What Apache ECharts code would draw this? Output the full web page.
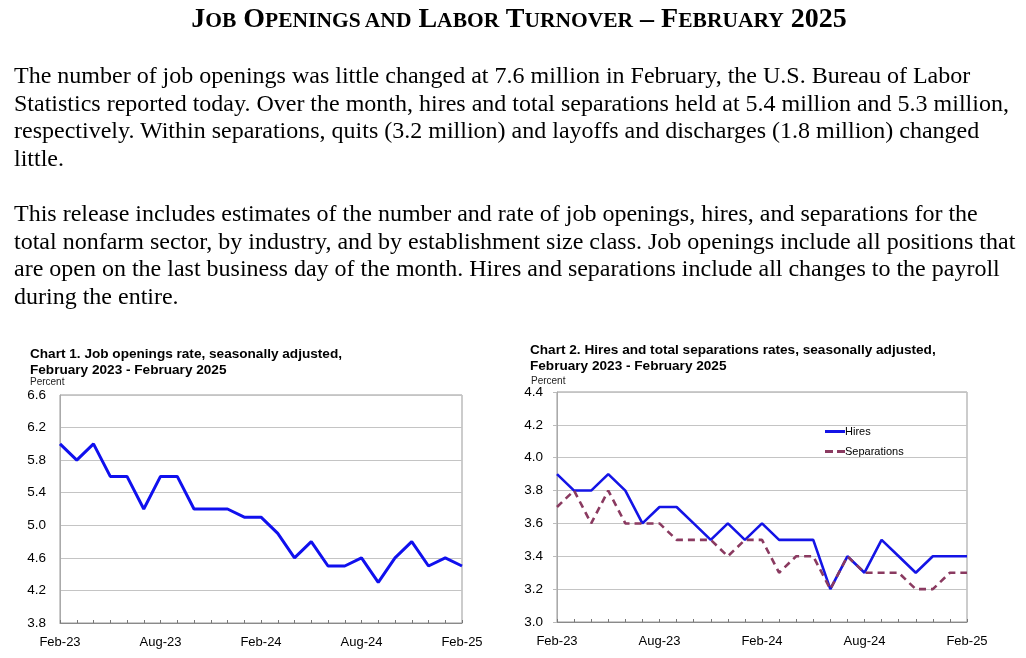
<!DOCTYPE html>
<html><head><meta charset="utf-8">
<script src="https://cdn.jsdelivr.net/npm/echarts@6/dist/echarts.min.js"></script>
<style>
html,body{margin:0;padding:0;background:#fff;width:1026px;height:658px;overflow:hidden;}
#chart{position:absolute;left:0;top:0;width:1026px;height:658px;}
#head{position:absolute;left:0;top:1px;width:1038px;text-align:center;font-family:'Liberation Serif','Times New Roman',serif;font-weight:bold;font-size:28px;line-height:34px;color:#000;white-space:nowrap;}
#head .s{font-size:21.5px;}
#body{position:absolute;left:14px;top:62px;font-family:'Liberation Serif','Times New Roman',serif;font-size:24px;line-height:27.6px;color:#000;white-space:nowrap;}
</style></head>
<body>
<div id="chart"></div>
<div id="head">J<span class="s">OB</span> O<span class="s">PENINGS AND</span> L<span class="s">ABOR</span> T<span class="s">URNOVER</span> – F<span class="s">EBRUARY</span> 2025</div>
<div id="body">The number of job openings was little changed at 7.6 million in February, the U.S. Bureau of Labor<br>Statistics reported today. Over the month, hires and total separations held at 5.4 million and 5.3 million,<br>respectively. Within separations, quits (3.2 million) and layoffs and discharges (1.8 million) changed<br>little.<br><br>This release includes estimates of the number and rate of job openings, hires, and separations for the<br>total nonfarm sector, by industry, and by establishment size class. Job openings include all positions that<br>are open on the last business day of the month. Hires and separations include all changes to the payroll<br>during the entire.</div>
<script>
const months = ['Feb-23','Mar-23','Apr-23','May-23','Jun-23','Jul-23','Aug-23','Sep-23','Oct-23','Nov-23','Dec-23','Jan-24','Feb-24','Mar-24','Apr-24','May-24','Jun-24','Jul-24','Aug-24','Sep-24','Oct-24','Nov-24','Dec-24','Jan-25','Feb-25'];
const openingsRate = [6.0,5.8,6.0,5.6,5.6,5.2,5.6,5.6,5.2,5.2,5.2,5.1,5.1,4.9,4.6,4.8,4.5,4.5,4.6,4.3,4.6,4.8,4.5,4.6,4.5];
const hiresRate = [3.9,3.8,3.8,3.9,3.8,3.6,3.7,3.7,3.6,3.5,3.6,3.5,3.6,3.5,3.5,3.5,3.2,3.4,3.3,3.5,3.4,3.3,3.4,3.4,3.4];
const separationsRate = [3.7,3.8,3.6,3.8,3.6,3.6,3.6,3.5,3.5,3.5,3.4,3.5,3.5,3.3,3.4,3.4,3.2,3.4,3.3,3.3,3.3,3.2,3.2,3.3,3.3];
const chart1Title = 'Chart 1. Job openings rate, seasonally adjusted,\nFebruary 2023 - February 2025';
const chart2Title = 'Chart 2. Hires and total separations rates, seasonally adjusted,\nFebruary 2023 - February 2025';

const c = echarts.init(document.getElementById('chart'));
const FONT = "'Liberation Sans', Arial, sans-serif";
function xAx(gi){
  return {type:'category',gridIndex:gi,data:months,boundaryGap:false,
    axisLine:{lineStyle:{color:'#8a8a8a',width:1}},
    axisTick:{show:true,interval:0,inside:true,length:3,lineStyle:{color:'#777'}},
    axisLabel:{interval:5,color:'#000',fontFamily:FONT,fontSize:13,margin:13,showMaxLabel:true},
    splitLine:{show:false}};
}
c.setOption({
  animation:false,
  title:[
    {text:chart1Title,left:30,top:346,padding:0,textStyle:{fontFamily:FONT,fontSize:13.6,fontWeight:'bold',color:'#000',lineHeight:16}},
    {text:'Percent',left:30,top:377,padding:0,textStyle:{fontFamily:FONT,fontSize:10,fontWeight:'normal',color:'#222'}},
    {text:chart2Title,left:530,top:342,padding:0,textStyle:{fontFamily:FONT,fontSize:13.6,fontWeight:'bold',color:'#000',lineHeight:16}},
    {text:'Percent',left:531,top:376,padding:0,textStyle:{fontFamily:FONT,fontSize:10,fontWeight:'normal',color:'#222'}}
  ],
  legend:{orient:'vertical',left:825,top:425,padding:0,itemWidth:20,itemHeight:3,itemGap:7,
    data:[
      {name:'Hires',icon:'path://M0,0H20V3H0Z'},
      {name:'Separations',icon:'path://M0,0H8V3H0Z M12,0H20V3H12Z'}
    ],
    textStyle:{fontFamily:FONT,fontSize:11,color:'#000',padding:[0,0,0,-5],lineHeight:13}},
  grid:[
    {left:60,top:395,width:402,height:228,show:true,borderColor:'#999',borderWidth:1,containLabel:false},
    {left:557,top:392,width:410,height:230,show:true,borderColor:'#999',borderWidth:1,containLabel:false}
  ],
  xAxis:[xAx(0),xAx(1)],
  yAxis:[
    {type:'value',gridIndex:0,min:3.8,max:6.6,interval:0.2,
      axisLine:{show:true,lineStyle:{color:'#aaa'}},axisTick:{show:false},
      axisLabel:{color:'#000',fontFamily:FONT,fontSize:13.5,margin:14,
        formatter:v=>(Math.round((v-3.8)/0.2)%2===0?v.toFixed(1):'')},
      splitLine:{show:true,lineStyle:{color:['#c4c4c4','rgba(0,0,0,0)'],width:1}}},
    {type:'value',gridIndex:1,min:3.0,max:4.4,interval:0.2,
      axisLine:{show:true,lineStyle:{color:'#aaa'}},axisTick:{show:true,length:4,lineStyle:{color:'#bbb'}},
      axisLabel:{color:'#000',fontFamily:FONT,fontSize:13.5,margin:14,formatter:v=>v.toFixed(1)},
      splitLine:{show:true,lineStyle:{color:'#c4c4c4',width:1}}}
  ],
  series:[
    {name:'Job openings',type:'line',xAxisIndex:0,yAxisIndex:0,data:openingsRate,symbol:'none',
      lineStyle:{color:'#1010ee',width:3},itemStyle:{color:'#1010ee'}},
    {name:'Hires',type:'line',xAxisIndex:1,yAxisIndex:1,data:hiresRate,symbol:'none',
      lineStyle:{color:'#1414e6',width:2.6},itemStyle:{color:'#1414e6'}},
    {name:'Separations',type:'line',xAxisIndex:1,yAxisIndex:1,data:separationsRate,symbol:'none',
      lineStyle:{color:'#8a3a60',width:2.6,type:[7,5]},itemStyle:{color:'#8a3a60'}}
  ]
});
</script>
</body></html>
